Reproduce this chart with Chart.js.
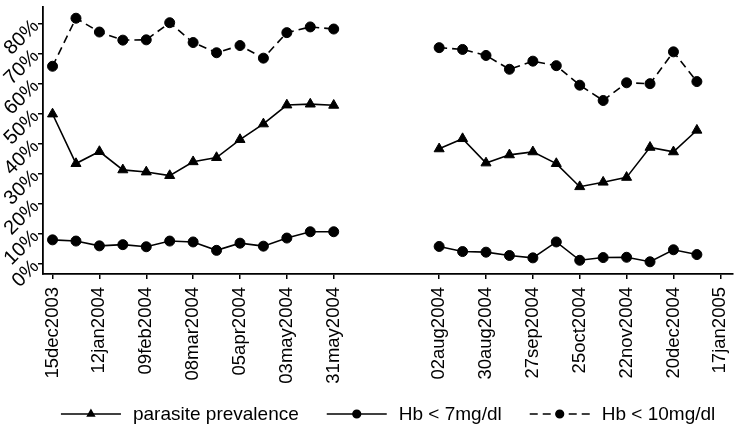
<!DOCTYPE html>
<html>
<head>
<meta charset="utf-8">
<script src="https://cdn.jsdelivr.net/npm/chart.js@4"></script>
<style>
  html, body { margin: 0; background: #fff; }
  #wrap { width: 740px; height: 428px; }
</style>
</head>
<body>
<div id="wrap"><canvas id="myChart"></canvas></div>
<script>
// Survey rounds (every two weeks, break over the rainy season)
const surveyDates = [
  '15dec2003', '29dec2003', '12jan2004', '26jan2004', '09feb2004', '23feb2004', '08mar2004',
  '22mar2004', '05apr2004', '19apr2004', '03may2004', '17may2004', '31may2004',
  '02aug2004', '16aug2004', '30aug2004', '13sep2004', '27sep2004', '11oct2004', '25oct2004',
  '08nov2004', '22nov2004', '06dec2004', '20dec2004', '03jan2005'
];

// Values in %
const parasitePrev = [49.8, 33.3, 37.3, 31.2, 30.5, 29.3, 33.9, 35.3, 41.3, 46.5, 52.8, 53.1, 52.7,
  38.2, 41.6, 33.5, 36.2, 37.2, 33.3, 25.6, 27.1, 28.7, 38.7, 37.2, 44.4];
const hbUnder7 = [7.9, 7.5, 5.9, 6.3, 5.6, 7.5, 7.2, 4.4, 6.8, 5.8, 8.5, 10.6, 10.6,
  5.7, 4.0, 3.8, 2.7, 1.9, 7.2, 1.1, 2.0, 2.1, 0.6, 4.6, 3.0];
const hbUnder10 = [65.7, 81.7, 77.1, 74.4, 74.5, 80.2, 73.6, 70.2, 72.6, 68.4, 76.9, 78.8, 78.1,
  71.9, 71.3, 69.3, 64.7, 67.4, 65.9, 59.4, 54.3, 60.2, 59.9, 70.5, 60.6];

const xTickLabels = ['15dec2003', '12jan2004', '09feb2004', '08mar2004', '05apr2004', '03may2004',
  '31may2004', '02aug2004', '30aug2004', '27sep2004', '25oct2004', '22nov2004', '20dec2004', '17jan2005'];
const yTicks = [0, 10, 20, 30, 40, 50, 60, 70, 80];

const months = ['jan','feb','mar','apr','may','jun','jul','aug','sep','oct','nov','dec'];
function toDay(s) {
  const d = +s.slice(0, 2), m = months.indexOf(s.slice(2, 5)), y = +s.slice(5);
  return Date.UTC(y, m, d) / 864e5;
}
const day0 = toDay(surveyDates[0]);
const dayOf = s => toDay(s) - day0;

const xTickDays = xTickLabels.map(dayOf);
const points = vals => surveyDates.map((s, i) => ({ x: dayOf(s), y: vals[i] }));

const FONT = '"Liberation Sans", Arial, Helvetica, sans-serif';

// legend drawn as line sample + marker + text, like the original
const lineLegend = {
  id: 'lineLegend',
  afterDraw(chart) {
    const ctx = chart.ctx;
    const area = chart.chartArea;
    const sampleLen = 60, textGap = 12, itemGap = 28;
    ctx.save();
    ctx.font = '19px ' + FONT;
    const items = chart.data.datasets.map(ds => ({ ds, w: ctx.measureText(ds.label).width }));
    const total = items.reduce((s, it) => s + sampleLen + textGap + it.w, 0) + itemGap * (items.length - 1);
    let x = (area.left + area.right) / 2 - total / 2;
    const y = chart.height - 14;
    items.forEach(it => {
      ctx.strokeStyle = '#000';
      ctx.lineWidth = it.ds.borderWidth;
      ctx.setLineDash(it.ds.borderDash || []);
      ctx.beginPath();
      ctx.moveTo(x, y);
      ctx.lineTo(x + sampleLen, y);
      ctx.stroke();
      ctx.setLineDash([]);
      ctx.fillStyle = '#000';
      Chart.helpers.drawPoint(ctx, { pointStyle: it.ds.pointStyle, radius: 3.8, borderWidth: 1, rotation: 0 }, x + sampleLen / 2, y);
      x += sampleLen + textGap;
      ctx.textAlign = 'left';
      ctx.textBaseline = 'middle';
      ctx.fillText(it.ds.label, x, y + 1);
      x += it.w + itemGap;
    });
    ctx.restore();
  }
};

const baseSet = {
  borderColor: '#000',
  backgroundColor: '#000',
  pointBackgroundColor: '#000',
  pointBorderColor: '#000',
  borderWidth: 1.6,
  pointBorderWidth: 1,
  tension: 0,
  spanGaps: 30
};

const ctx = document.getElementById('myChart').getContext('2d');
const myChart = new Chart(ctx, {
  type: 'line',
  data: {
    datasets: [
      Object.assign({}, baseSet, { label: 'parasite prevalence', data: points(parasitePrev), pointStyle: 'triangle', pointRadius: 5.8 }),
      Object.assign({}, baseSet, { label: 'Hb < 7mg/dl', data: points(hbUnder7), pointStyle: 'circle', pointRadius: 5 }),
      Object.assign({}, baseSet, { label: 'Hb < 10mg/dl', data: points(hbUnder10), pointStyle: 'circle', pointRadius: 5, borderDash: [8, 5] })
    ]
  },
  options: {
    responsive: true,
    maintainAspectRatio: false,
    animation: false,
    layout: { padding: 0 },
    plugins: { legend: { display: false }, tooltip: { enabled: false } },
    scales: {
      x: {
        type: 'linear',
        min: -5.7,
        max: 406.7,
        grid: { display: true, drawOnChartArea: false, drawTicks: true, tickLength: 5, color: '#000', lineWidth: 1.5 },
        border: { display: true, color: '#000', width: 1.8 },
        afterBuildTicks: s => { s.ticks = xTickDays.map(v => ({ value: v })); },
        afterFit: s => { s.height = 154; s.paddingLeft = 0; s.paddingRight = 0; },
        ticks: {
          autoSkip: false,
          minRotation: 90,
          maxRotation: 90,
          padding: 8,
          color: '#000',
          font: { family: FONT, size: 18.5 },
          callback: v => xTickLabels[xTickDays.indexOf(v)]
        }
      },
      y: {
        type: 'linear',
        min: -3.47,
        max: 85.5,
        grid: { display: true, drawOnChartArea: false, drawTicks: true, tickLength: 5, color: '#000', lineWidth: 1.5 },
        border: { display: true, color: '#000', width: 1.8 },
        afterBuildTicks: s => { s.ticks = yTicks.map(v => ({ value: v })); },
        afterFit: s => { s.width = 43; s.paddingTop = 0; s.paddingBottom = 0; },
        ticks: {
          autoSkip: false,
          minRotation: 45,
          maxRotation: 45,
          padding: 2,
          color: '#000',
          font: { family: FONT, size: 20 },
          callback: v => v + '%'
        }
      }
    }
  },
  plugins: [lineLegend]
});
</script>
</body>
</html>
